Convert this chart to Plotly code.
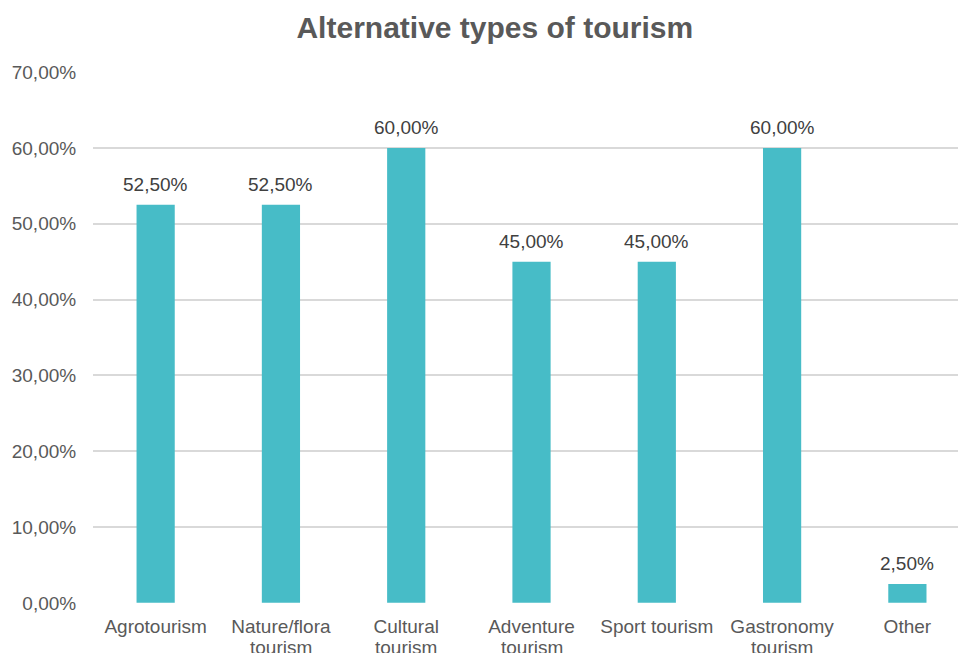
import plotly.graph_objects as go

# Survey results: share of respondents interested in each type of tourism
first_lines = [
    "Agrotourism",
    "Nature/flora",
    "Cultural",
    "Adventure",
    "Sport tourism",
    "Gastronomy",
    "Other",
]
second_lines = ["", "tourism", "tourism", "tourism", "", "tourism", ""]
shares = [0.525, 0.525, 0.60, 0.45, 0.45, 0.60, 0.025]

y_ticks = [0.0, 0.1, 0.2, 0.3, 0.4, 0.5, 0.6, 0.7]

TEXT = "#595959"
LABEL = "#404040"
BAR = "#47BCC7"
GRID = "#D9D9D9"
FONT = "Liberation Sans, Arial, sans-serif"

positions = list(range(len(first_lines)))

fig = go.Figure(
    go.Bar(
        x=positions,
        y=shares,
        width=0.305,
        marker=dict(color=BAR, line=dict(width=0)),
        hovertemplate="%{y:.2%}<extra></extra>",
    )
)

# value labels above each bar
for xpos, val in zip(positions, shares):
    fig.add_annotation(
        x=xpos,
        y=val,
        text=f"{val * 100:.2f}%".replace(".", ","),
        showarrow=False,
        xanchor="center",
        yanchor="bottom",
        yshift=8,
        font=dict(family=FONT, size=19, color=LABEL),
    )

# second line of the wrapped category names, set tighter than <br> spacing
for xpos, txt in zip(positions, second_lines):
    if txt:
        fig.add_annotation(
            x=xpos,
            xref="x",
            y=0,
            yref="paper",
            text=txt,
            showarrow=False,
            xanchor="center",
            yanchor="middle",
            yshift=-44,
            font=dict(family=FONT, size=19, color=TEXT),
        )

fig.update_layout(
    width=959,
    height=653,
    margin=dict(l=93, r=1, t=72, b=50),
    paper_bgcolor="white",
    plot_bgcolor="white",
    separators=",.",
    showlegend=False,
    title=dict(
        text="<b>Alternative types of tourism</b>",
        x=0.516,
        xanchor="center",
        y=0.958,
        yanchor="middle",
        font=dict(family=FONT, size=30, color=TEXT),
    ),
    font=dict(family=FONT, size=19, color=TEXT),
)

fig.update_xaxes(
    tickmode="array",
    tickvals=positions,
    ticktext=first_lines,
    range=[-0.5, 6.404],
    showgrid=False,
    zeroline=False,
    showline=False,
    automargin=False,
    ticks="outside",
    ticklen=6,
    tickcolor="rgba(0,0,0,0)",
    tickfont=dict(family=FONT, size=19, color=TEXT),
)

fig.update_yaxes(
    range=[-0.0002, 0.7002],
    tickmode="array",
    tickvals=y_ticks,
    tickformat=".2%",
    showgrid=True,
    gridcolor=GRID,
    gridwidth=1.5,
    zeroline=False,
    showline=False,
    automargin=False,
    ticks="outside",
    ticklen=12,
    tickcolor="rgba(0,0,0,0)",
    tickfont=dict(family=FONT, size=19, color=TEXT),
)

fig.write_html("out.html")
